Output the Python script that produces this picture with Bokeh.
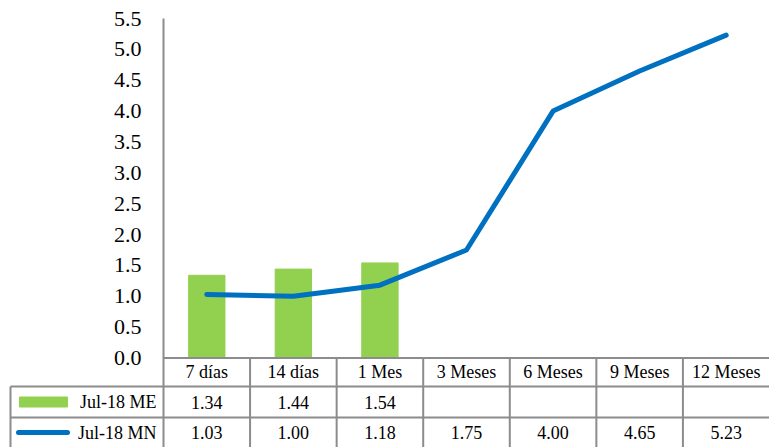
from bokeh.plotting import figure
from bokeh.models import Range1d, FixedTicker, PrintfTickFormatter, LinearAxis
from bokeh.embed import file_html
from bokeh.resources import INLINE

categories = ["7 días", "14 días", "1 Mes", "3 Meses", "6 Meses", "9 Meses", "12 Meses"]
me_values = [1.34, 1.44, 1.54]
mn_values = [1.03, 1.00, 1.18, 1.75, 4.00, 4.65, 5.23]
y_ticks = [0.0, 0.5, 1.0, 1.5, 2.0, 2.5, 3.0, 3.5, 4.0, 4.5, 5.0, 5.5]
series_names = ["Jul-18 ME", "Jul-18 MN"]

GREEN = "#92d050"
BLUE = "#0070c0"
GRID = "#8c8c8c"
FONT = "Liberation Serif"

W, H = 769, 447
LEFT, TOP = 163, 18
n = len(categories)
unit_x = (W - LEFT) / n
X_MIN = -LEFT / unit_x
Y_AXIS_TOP = y_ticks[-1]
unit_y = (357.5 - TOP) / Y_AXIS_TOP
Y_MAX = Y_AXIS_TOP + TOP / unit_y
Y_MIN = -(H - 357.5) / unit_y
row1 = -(386 - 357.5) / unit_y   # bottom of header row
row2 = -(417 - 357.5) / unit_y   # bottom of ME row

p = figure(x_range=Range1d(X_MIN, n), y_range=Range1d(Y_MIN, Y_MAX),
           width=W, height=H, output_backend="svg", toolbar_location=None,
           x_axis_location=None, y_axis_location=None,
           min_border_left=0, min_border_right=0, min_border_top=0, min_border_bottom=0)
p.xgrid.visible = False
p.ygrid.visible = False
p.outline_line_color = None

yaxis = LinearAxis(fixed_location=0, ticker=FixedTicker(ticks=y_ticks),
                   formatter=PrintfTickFormatter(format="%.1f"))
yaxis.major_tick_line_color = None
yaxis.minor_tick_line_color = None
yaxis.major_tick_out = 0
yaxis.major_tick_in = 0
yaxis.major_label_standoff = 22
yaxis.axis_line_color = None
yaxis.major_label_text_font = FONT
yaxis.major_label_text_font_size = "22px"
yaxis.major_label_text_color = "#000000"
p.add_layout(yaxis, "left")

centers = [i + 0.5 for i in range(n)]

# chart marks
p.vbar(x=centers[:len(me_values)], top=me_values, width=0.42, bottom=0, color=GREEN)
p.line(x=centers, y=mn_values, line_width=5, color=BLUE, line_cap="round", line_join="round")

# axis line + table grid
left_edge = -(LEFT - 10) / unit_x
p.segment(x0=[0, left_edge, left_edge], y0=[0, row1, row2], x1=[n, n, n], y1=[0, row1, row2],
          line_color=GRID, line_width=2)
vx = [0] + list(range(1, n)) + [left_edge]
vtop = [Y_AXIS_TOP] + [0] * (n - 1) + [row1]
p.segment(x0=vx, y0=[Y_MIN] * len(vx), x1=vx, y1=vtop, line_color=GRID, line_width=2)

mid_h = row1 / 2
mid_me = (row1 + row2) / 2
mid_mn = (row2 + Y_MIN) / 2
txt = dict(text_baseline="middle", text_font=dict(value=FONT),
           text_font_size="18px", text_color="#000000")
p.text(x=centers, y=[mid_h] * n, text=categories, text_align="center", **txt)
p.text(x=centers[:len(me_values)], y=[mid_me] * len(me_values),
       text=["%.2f" % v for v in me_values], text_align="center", **txt)
p.text(x=centers, y=[mid_mn] * n, text=["%.2f" % v for v in mn_values], text_align="center", **txt)

# series names and keys in the table's first column
lab_x = -7 / unit_x
p.text(x=[lab_x, lab_x], y=[mid_me, mid_mn], text=series_names, text_align="right", **txt)
p.rect(x=[-(LEFT - 43) / unit_x], y=[mid_me], width=48 / unit_x, height=10 / unit_y,
       color=GREEN)
p.line(x=[-(LEFT - 18) / unit_x, -(LEFT - 67) / unit_x], y=[mid_mn, mid_mn], line_width=5,
       color=BLUE, line_cap="round")

open("out.html", "w").write(file_html(p, INLINE))
